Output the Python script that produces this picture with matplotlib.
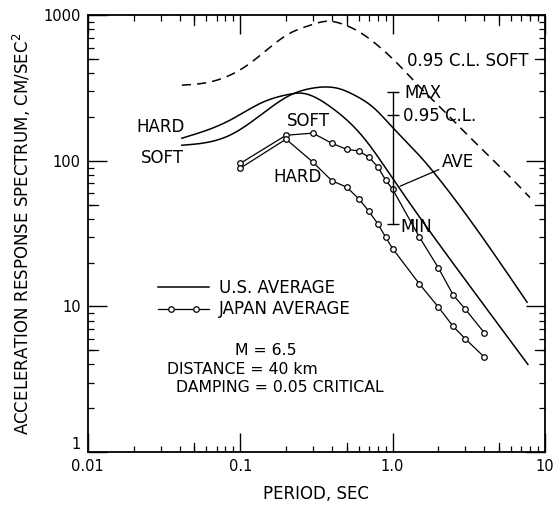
import matplotlib
matplotlib.use('Agg')
import matplotlib.pyplot as plt
import matplotlib.transforms as mtransforms
import numpy as np
from matplotlib.legend_handler import HandlerLine2D
from matplotlib.lines import Line2D
from matplotlib.ticker import LogLocator, FixedFormatter, FixedLocator, NullFormatter

# U.S. average spectra (smooth curves)
us_hard_period = [0.0414, 0.0855, 0.141, 0.212, 0.247, 0.387, 0.64, 1.0, 2.9, 7.74]
us_hard_accel = [143, 190, 253, 287, 292, 237, 146, 76, 16, 4.0]
us_soft_period = [0.0414, 0.0855, 0.141, 0.212, 0.30, 0.387, 0.452, 0.525, 0.64, 0.743,
                  1.0, 1.51, 2.05, 7.64]
us_soft_accel = [128, 150, 212, 282, 316, 321, 312, 293, 262, 234,
                 170, 108, 73.7, 10.7]

# 0.95 confidence level, soft (dashed)
cl_soft_period = [0.0414, 0.057, 0.0855, 0.116, 0.157, 0.212, 0.287, 0.387, 0.452, 0.61,
                  0.826, 1.12, 1.51, 2.05, 2.77, 3.75, 5.07, 6.87, 7.98]
cl_soft_accel = [331, 341, 387, 468, 603, 752, 853, 910, 881, 764,
                 603, 447, 321, 234, 170, 124, 91, 66, 56]

# Japan average spectra (points)
jp_period = [0.1, 0.2, 0.3, 0.4, 0.5, 0.6, 0.7, 0.8, 0.9, 1.0, 1.5, 2.0, 2.5, 3.0, 4.0]
jp_soft_accel = [96, 150, 155, 132, 120, 117, 106, 91, 74, 64, 30, 18.4, 12.0, 9.6, 6.6]
jp_hard_accel = [89, 141, 98, 73, 66, 55, 45, 37, 30, 25, 14.3, 9.9, 7.3, 6.0, 4.5]

# scatter bar at T = 1.0
bar_period = 1.0
bar_max, bar_cl95, bar_min = 296, 206, 37

x_ticks = [0.01, 0.1, 1.0, 10]
x_tick_labels = ['0.01', '0.1', '1.0', '10']
y_ticks = [1, 10, 100, 1000]
y_tick_labels = ['1', '10', '100', '1000']


def smooth(px, py, n=300):
    # natural cubic spline through the read points, in log-log space
    x, y = np.log10(px), np.log10(py)
    k = len(x)
    h = np.diff(x)
    A = np.zeros((k, k))
    b = np.zeros(k)
    A[0, 0] = A[-1, -1] = 1
    for i in range(1, k - 1):
        A[i, i - 1] = h[i - 1]
        A[i, i] = 2 * (h[i - 1] + h[i])
        A[i, i + 1] = h[i]
        b[i] = 6 * ((y[i + 1] - y[i]) / h[i] - (y[i] - y[i - 1]) / h[i - 1])
    M = np.linalg.solve(A, b)
    t = np.linspace(x[0], x[-1], n)
    j = np.clip(np.searchsorted(x, t) - 1, 0, k - 2)
    a, c = x[j + 1] - t, t - x[j]
    hj = h[j]
    s = (M[j] * a**3 + M[j + 1] * c**3) / (6 * hj) \
        + (y[j] / hj - M[j] * hj / 6) * a + (y[j + 1] / hj - M[j + 1] * hj / 6) * c
    return 10**t, 10**s


plt.rcParams['font.family'] = 'DejaVu Sans'
fs = 12
tfs = 10.5

fig = plt.figure(figsize=(5.56, 5.08), dpi=100)
ax = fig.add_axes([0.158, 0.110, 0.822, 0.860])
ax.set_xscale('log')
ax.set_yscale('log')
ax.set_xlim(0.01, 10)
ax.set_ylim(1, 1000)

for spine in ax.spines.values():
    spine.set_linewidth(1.3)

x, y = smooth(us_hard_period, us_hard_accel)
ax.plot(x, y, color='black', lw=1.1)
x, y = smooth(us_soft_period, us_soft_accel)
ax.plot(x, y, color='black', lw=1.1)
x, y = smooth(cl_soft_period, cl_soft_accel)
ax.plot(x, y, color='black', lw=1.1, dashes=(6, 4))

mk = dict(color='black', lw=0.9, marker='o', markersize=4, markerfacecolor='white',
          markeredgewidth=0.9)
ax.plot(jp_period, jp_soft_accel, **mk)
ax.plot(jp_period, jp_hard_accel, **mk)

# range bar
ax.plot([bar_period, bar_period], [bar_min, bar_max], color='black', lw=1.0)
ax.plot([bar_period] * 3, [bar_max, bar_cl95, bar_min], ls='none', marker='_',
        markersize=8, markeredgewidth=1.0, color='black')

# ticks
ax.xaxis.set_major_locator(FixedLocator(x_ticks))
ax.xaxis.set_major_formatter(FixedFormatter(x_tick_labels))
ax.yaxis.set_major_locator(FixedLocator(y_ticks))
ax.yaxis.set_major_formatter(FixedFormatter(y_tick_labels))
ax.xaxis.set_minor_locator(LogLocator(base=10, subs=(2, 3, 4, 5, 6, 7, 8, 9)))
ax.yaxis.set_minor_locator(LogLocator(base=10, subs=(2, 3, 4, 5, 6, 7, 8, 9)))
ax.xaxis.set_minor_formatter(NullFormatter())
ax.yaxis.set_minor_formatter(NullFormatter())
ax.tick_params(which='major', direction='in', length=14, width=1.0, top=True, right=True,
               labelsize=tfs, pad=5)
ax.tick_params(which='minor', direction='in', length=4, width=0.9, top=True, right=True)
ax.get_yticklabels()[0].set_va('bottom')

# the longer ticks at the 5s
bx = mtransforms.blended_transform_factory(ax.transData, ax.transAxes)
by = mtransforms.blended_transform_factory(ax.transAxes, ax.transData)
for v in [0.05, 0.5, 5]:
    ax.plot([v, v], [0, 0.022], transform=bx, color='black', lw=0.9)
    ax.plot([v, v], [1, 0.978], transform=bx, color='black', lw=0.9)
for v in [5, 50, 500]:
    ax.plot([0, 0.022], [v, v], transform=by, color='black', lw=0.9)
    ax.plot([1, 0.978], [v, v], transform=by, color='black', lw=0.9)

ax.set_xlabel('PERIOD, SEC', fontsize=fs, labelpad=8)
ax.set_ylabel('ACCELERATION RESPONSE SPECTRUM, CM/SEC$^{2}$', fontsize=fs)
ax.yaxis.set_label_coords(-0.12, 0.5)

# labels
ax.text(0.043, 170, 'HARD', fontsize=fs, ha='right', va='center')
ax.text(0.043, 104, 'SOFT', fontsize=fs, ha='right', va='center')
ax.text(0.203, 187, 'SOFT', fontsize=fs, ha='left', va='center')
ax.text(0.164, 77, 'HARD', fontsize=fs, ha='left', va='center')
ax.text(1.24, 483, '0.95 C.L. SOFT', fontsize=fs, ha='left', va='center')
ax.text(1.20, 292, 'MAX', fontsize=fs, ha='left', va='center')
ax.text(1.18, 203, '0.95 C.L.', fontsize=fs, ha='left', va='center')
ax.text(1.12, 35, 'MIN', fontsize=fs, ha='left', va='center')
ax.annotate('AVE', xy=(1.12, 67), xytext=(2.1, 99), fontsize=fs, ha='left', va='center',
            arrowprops=dict(arrowstyle='-', color='black', lw=0.9, shrinkA=0, shrinkB=0))

nfs = 11.3
ax.text(0.148, 4.98, 'M = 6.5', fontsize=nfs, ha='center', va='center')
ax.text(0.104, 3.72, 'DISTANCE = 40 km', fontsize=nfs, ha='center', va='center')
ax.text(0.182, 2.776, 'DAMPING = 0.05 CRITICAL', fontsize=nfs, ha='center', va='center')

# legend: plain line for U.S., line with two open circles for Japan
us_h = Line2D([], [], color='black', lw=1.1)
jp_line = Line2D([], [], color='black', lw=0.9)
jp_pts = Line2D([], [], ls='none', marker='o', markersize=4, markerfacecolor='white',
                markeredgecolor='black', markeredgewidth=0.9)
ax.legend([us_h, (jp_line, jp_pts)], ['U.S. AVERAGE', 'JAPAN AVERAGE'], loc='upper left',
          bbox_to_anchor=(0.153, 0.396), frameon=False, fontsize=fs, handlelength=3.1,
          handletextpad=0.55, labelspacing=0.2, numpoints=2, borderpad=0,
          borderaxespad=0,
          handler_map={us_h: HandlerLine2D(marker_pad=0), jp_line: HandlerLine2D(marker_pad=0),
                       jp_pts: HandlerLine2D(marker_pad=0.8)})

fig.savefig('out.png', dpi=100)
